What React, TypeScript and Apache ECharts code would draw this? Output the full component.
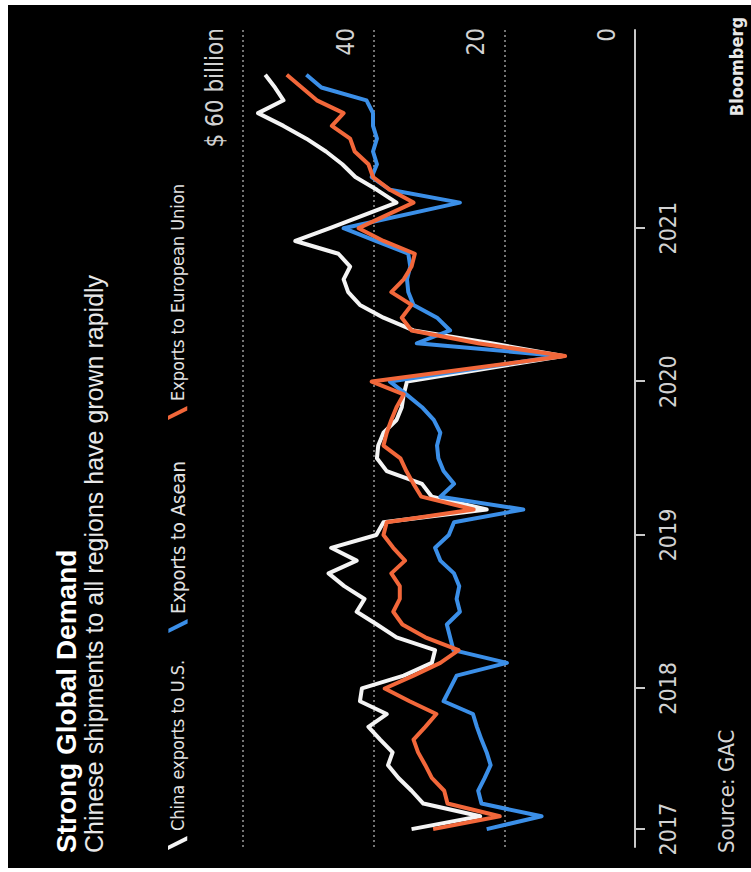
import React, { useEffect, useRef } from "react";
import * as echarts from "echarts";

// Months Jan 2017 .. Dec 2021 (plotted at month end: months since 1 Jan 2017)
const monthLabels: string[] = (() => {
  const out: string[] = [];
  for (let y = 2017; y <= 2021; y++) for (let m = 1; m <= 12; m++) out.push(`${y}-${String(m).padStart(2, "0")}`);
  return out;
})();
const monthPos = monthLabels.map((_, i) => i + 1);

// $ billion, null = not reported separately (combined Jan-Feb)
const usExports = [
  34.2, 23.7, 32.4, 34.2, 36.2, 37.8, 37.1, 39.0, 40.8, 38.0, 42.1, 41.8,
  35.4, 31.1, 30.6, 36.5, 39.5, 42.6, 41.4, 44.5, 46.9, 42.6, 46.5, 39.6,
  38.5, 22.7, 31.1, 32.6, 38.0, 39.5, 39.3, 38.5, 36.5, 35.7, 35.4, 34.9,
  null, 11.0, 22.0, 33.9, 38.5, 42.1, 43.9, 44.6, 43.6, 45.4, 52.0, 46.7,
  null, 36.5, 39.5, 42.8, 44.8, 47.3, 50.3, 53.8, 57.7, 53.8, 55.1, 56.6,
];
const aseanExports = [
  22.7, 14.3, 23.5, 24.0, 23.0, 22.1, 22.7, 23.5, 24.2, 24.8, 29.3, 28.3,
  27.3, 19.6, 27.8, 28.3, 28.8, 26.8, 27.3, 26.9, 27.7, 29.8, 30.6, 28.5,
  27.7, 17.1, 29.8, 27.7, 29.3, 30.1, 30.3, 29.8, 30.8, 32.6, 35.0, 37.5,
  null, 11.5, 33.4, 28.3, 30.3, 33.9, 34.7, 34.9, 34.4, 34.7, 39.7, 44.6,
  null, 26.8, 37.5, 40.3, 39.5, 40.1, 39.5, 40.1, 40.1, 41.1, 48.0, 50.3,
];
const euExports = [
  30.9, 20.7, 28.7, 29.2, 31.1, 32.1, 33.2, 33.9, 32.1, 30.4, 34.5, 38.3,
  33.9, 29.8, 27.0, 32.1, 35.6, 37.0, 36.0, 36.0, 37.3, 35.2, 37.0, 38.5,
  38.0, 24.7, 32.7, 33.9, 35.0, 35.9, 38.5, 38.0, 37.3, 36.5, 35.4, 40.3,
  null, 10.7, 24.0, 34.2, 35.7, 34.2, 37.3, 35.4, 34.2, 33.7, 38.5, 42.3,
  null, 33.9, 37.5, 40.1, 40.8, 42.9, 43.6, 46.4, 44.6, 48.7, 51.0, 53.3,
];

const seriesNames = ["China exports to U.S.", "Exports to Asean", "Exports to European Union"];
const seriesColors = ["#f4f4f4", "#3b8fe8", "#f2673a"];

const yearTickPos = [1, 12, 24, 36, 48];
const yearTickLabels = ["2017", "2018", "2019", "2020", "2021"];

const NARROW = "'Liberation Sans Narrow', 'Arial Narrow', 'DejaVu Sans Condensed', sans-serif";
const SANS = "'Liberation Sans', Arial, sans-serif";

const slashIcon = "path://M0,0 L5,0 L16,22 L11,22 Z";

function buildOption(): any {
  const allValues = [usExports, aseanExports, euExports];
  const legendLefts = [18, 235, 448];
  const legendSizes = [18, 20, 18];
  return {
    animation: false,
    backgroundColor: "#000",
    grid: { left: 21, right: 25, top: 235, bottom: 116, containLabel: false },
    xAxis: {
      type: "value",
      min: -0.4,
      max: 63.5,
      axisLine: { show: true, onZero: false, lineStyle: { color: "#c9c9c9", width: 2 } },
      axisTick: {
        show: true,
        customValues: yearTickPos,
        length: 10,
        lineStyle: { color: "#c9c9c9", width: 2 },
      },
      axisLabel: {
        customValues: yearTickPos,
        formatter: (v: number) => {
          const i = yearTickPos.indexOf(v);
          return i >= 0 ? yearTickLabels[i] : "";
        },
        color: "#d2d2d2",
        fontSize: 23,
        fontFamily: NARROW,
        margin: 21,
      },
      splitLine: { show: false },
    },
    yAxis: {
      type: "value",
      position: "right",
      min: 0,
      max: 60,
      interval: 20,
      axisLine: { show: false },
      axisTick: { show: false },
      axisLabel: {
        inside: true,
        margin: -2,
        align: "right",
        verticalAlign: "bottom",
        padding: [0, 0, 16, 0],
        formatter: (v: number) => (v === 60 ? "$ 60 billion" : String(v)),
        color: "#d2d2d2",
        fontSize: 24,
        fontFamily: NARROW,
      },
      splitLine: { show: true, lineStyle: { color: "#9a9a9a", type: [2, 3], width: 1.5 } },
    },
    legend: seriesNames.map((name, i) => ({
      data: [name],
      left: legendLefts[i],
      top: 160,
      padding: 0,
      orient: "horizontal",
      icon: slashIcon,
      itemWidth: 14,
      itemHeight: 20,
      itemGap: 0,
      selectedMode: false,
      textStyle: { color: "#e2e2e2", fontSize: legendSizes[i], fontFamily: NARROW },
    })),
    graphic: [
      {
        type: "text",
        x: 15,
        y: 58,
        style: {
          text: "Strong Global Demand",
          fill: "#ffffff",
          fontSize: 28,
          fontWeight: "bold",
          fontFamily: SANS,
          verticalAlign: "middle",
        },
      },
      {
        type: "text",
        x: 15,
        y: 86,
        style: {
          text: "Chinese shipments to all regions have grown rapidly",
          fill: "#e8e8e8",
          fontSize: 25,
          fontFamily: SANS,
          verticalAlign: "middle",
        },
      },
      {
        type: "text",
        x: 15,
        y: 718,
        style: {
          text: "Source: GAC",
          fill: "#d6d6d6",
          fontSize: 22,
          fontFamily: NARROW,
          verticalAlign: "middle",
        },
      },
      {
        type: "text",
        x: 851,
        y: 728,
        style: {
          text: "Bloomberg",
          fill: "#e8e8e8",
          fontSize: 18,
          fontWeight: "bold",
          fontFamily: NARROW,
          align: "right",
          verticalAlign: "middle",
        },
      },
    ],
    series: seriesNames.map((name, i) => ({
      name,
      type: "line",
      data: monthPos.map((x, j) => [x, allValues[i][j]]),
      showSymbol: false,
      symbol: "none",
      connectNulls: true,
      color: seriesColors[i],
      lineStyle: { color: seriesColors[i], width: 4, join: "round" },
      itemStyle: { color: seriesColors[i] },
      z: 3 + i,
    })),
  };
}

export default function App() {
  const ref = useRef<HTMLDivElement>(null);
  useEffect(() => {
    if (!ref.current) return;
    const chart = echarts.init(ref.current, null, { renderer: "svg" });
    chart.setOption(buildOption());
    return () => chart.dispose();
  }, []);
  return (
    <div
      style={{
        position: "fixed",
        left: 0,
        top: 0,
        width: 751,
        height: 872,
        background: "#fff",
        overflow: "hidden",
      }}
    >
      <div
        ref={ref}
        style={{
          position: "absolute",
          left: 0,
          top: 0,
          width: 863,
          height: 743,
          transformOrigin: "0 0",
          transform: "translate(8px, 868px) rotate(-90deg)",
        }}
      />
    </div>
  );
}
